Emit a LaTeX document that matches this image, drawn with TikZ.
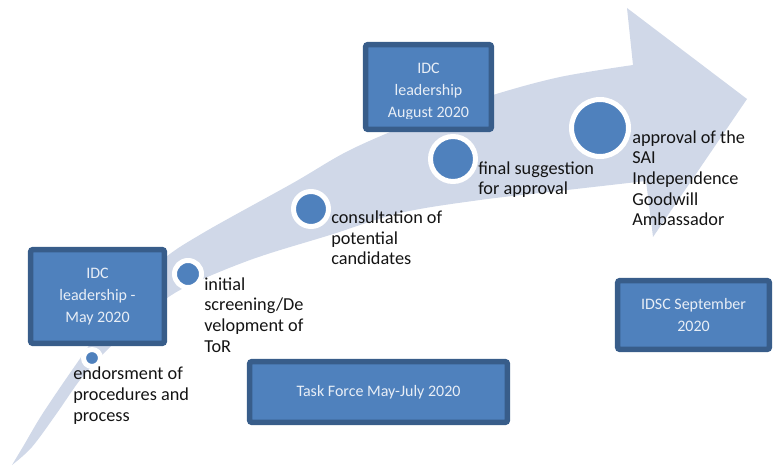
\documentclass[tikz,border=0pt]{standalone}
\usepackage{fontspec}
\setmainfont{Carlito}
\definecolor{bandc}{RGB}{208,216,232}
\definecolor{boxfill}{RGB}{79,129,189}
\definecolor{boxline}{RGB}{56,93,138}
\definecolor{boxtext}{RGB}{232,238,246}
\definecolor{labeltext}{RGB}{20,20,20}
\tikzset{
  stagebox/.style={draw=boxline, fill=boxfill, line width=4pt, rounded corners=1.5pt,
    inner sep=0pt, align=center, text=boxtext, font=\fontsize{12}{16.5}\selectfont},
  boxlabel/.style={inner sep=0pt, align=center, text=boxtext, font=\fontsize{12}{16.5}\selectfont},
  dot/.style={circle, draw=white, fill=boxfill, line width=3.75pt, inner sep=0pt, outer sep=0pt},
  steplabel/.style={anchor=base west, align=left, inner sep=0pt, text=labeltext,
    font=\fontsize{13.7}{15.5}\selectfont}
}
\begin{document}
\begin{tikzpicture}[x=0.75pt, y=-0.75pt]
\useasboundingbox (0,0) rectangle (773,466);
% big curved arrow
\fill[bandc] plot[smooth, tension=0.55] coordinates {(12,465) (24,445) (43,413) (77,363) (115,310) (160,262) (203,233) (293,183) (350,150) (420,120) (493,95) (560,77) (633,65)}
  -- (627,8) -- (747,99) -- (653,237)
  -- plot[smooth, tension=0.55] coordinates {(646,181) (567,190) (480,200) (400,213) (330,235) (250,260) (180,290) (140,320) (105,352) (80,380) (57,413) (32,447) (12,465)}
  -- cycle;
% boxes
\node[stagebox, minimum width={133.7*0.75pt}, minimum height={93.7*0.75pt}] (b1) at (97.5,296.5) {IDC\\leadership -\\May 2020};
\node[stagebox, minimum width={125.7*0.75pt}, minimum height={84.7*0.75pt}] (b2) at (428.5,87) {};
\begin{scope}
  \clip (366,45) rectangle (491,118.5);
  \node[boxlabel] (t2) at (428.5,92) {IDC\\leadership\\August 2020};
\end{scope}
\node[stagebox, minimum width={151.7*0.75pt}, minimum height={68.7*0.75pt}] (b3) at (693.5,315) {IDSC September\\2020};
\node[stagebox, minimum width={257.7*0.75pt}, minimum height={60.7*0.75pt}] (b4) at (378.5,392) {Task Force May-July 2020};
% circles
\node[dot, minimum size={17*0.75pt}] (c1) at (92,358) {};
\node[dot, minimum size={27*0.75pt}] (c2) at (188,274) {};
\node[dot, minimum size={35*0.75pt}] (c3) at (311,209) {};
\node[dot, minimum size={45*0.75pt}] (c4) at (453,159) {};
\node[dot, minimum size={57*0.75pt}] (c5) at (600,128) {};
% labels (anchored at the baseline of their last line)
\node[steplabel] (l1) at (73,421) {endorsment of\\procedures and\\process};
\node[steplabel] (l2) at (204,352) {initial\\screening/De\\velopment of\\ToR};
\node[steplabel] (l3) at (331,265) {consultation of\\potential\\candidates};
\node[steplabel] (l4) at (478,195) {final suggestion\\for approval};
\node[steplabel] (l5) at (632,226) {approval of the\\SAI\\Independence\\Goodwill\\Ambassador};
\end{tikzpicture}
\end{document}
